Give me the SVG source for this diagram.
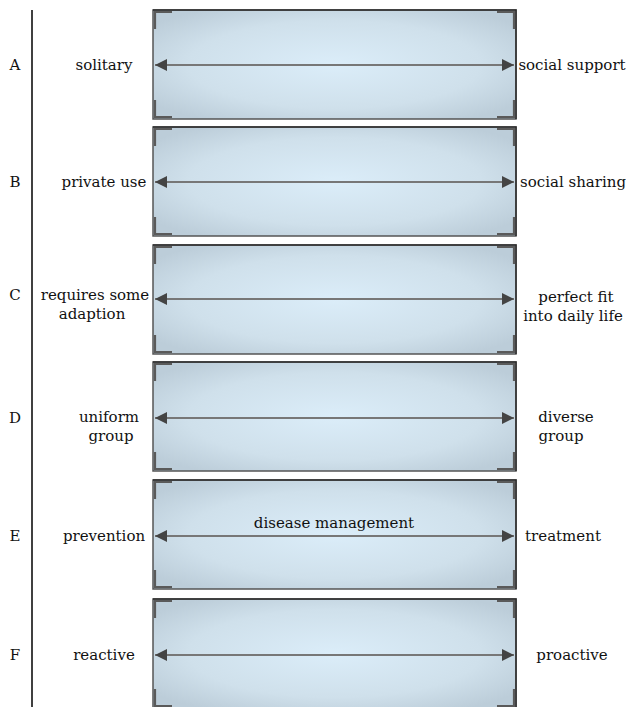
<svg xmlns="http://www.w3.org/2000/svg" width="626" height="707" viewBox="0 0 626 707">
<style>
text{font-family:"DejaVu Serif","Liberation Serif",serif;font-size:15px;fill:#111;}
.mid{text-anchor:middle;}
.box{fill:url(#g);stroke:#555;stroke-width:1.5;}
.tr{fill:none;stroke:#2e2e2e;stroke-width:1.5;}
.cor{fill:none;stroke:#5a5a5a;stroke-width:2.2;}
.arr{stroke:#777;stroke-width:2;fill:none;marker-start:url(#ah);marker-end:url(#ah);}
</style>
<defs>
<radialGradient id="g" cx="0.5" cy="0.5" r="0.62">
<stop offset="0" stop-color="#dbedf9"/>
<stop offset="0.65" stop-color="#cfe0eb"/>
<stop offset="1" stop-color="#bccdd9"/>
</radialGradient>
<marker id="ah" viewBox="0 0 12 12" refX="12" refY="6" markerWidth="12" markerHeight="12" markerUnits="userSpaceOnUse" orient="auto-start-reverse">
<path d="M0,0 L12,6 L0,12 Z" fill="#444"/>
</marker>
<g id="box">
<rect class="box" x="153" y="0" width="363" height="109"/>
<path class="tr" d="M153,0 H516 V109"/>
<path class="cor" d="M155,19 V2 H172 M155,90 V107 H172 M514,19 V2 H497 M514,90 V107 H497"/>
</g>
</defs>
<line x1="32" y1="10" x2="32" y2="707" stroke="#000" stroke-width="1.5"/>
<g id="row-A">
<use href="#box" y="10"/>
<text x="15" y="70" class="mid">A</text>
<text x="104" y="70" class="mid">solitary</text>
<text x="572" y="70" class="mid">social support</text>
</g>
<g id="row-B">
<use href="#box" y="127"/>
<text x="15" y="187" class="mid">B</text>
<text x="104" y="187" class="mid">private use</text>
<text x="573" y="187" class="mid">social sharing</text>
</g>
<g id="row-C">
<use href="#box" y="245"/>
<text x="15" y="300" class="mid">C</text>
<text x="95" y="300" class="mid">requires some</text>
<text x="92" y="319" class="mid">adaption</text>
<text x="576" y="302" class="mid">perfect fit</text>
<text x="573" y="321" class="mid">into daily life</text>
</g>
<g id="row-D">
<use href="#box" y="362"/>
<text x="15" y="423" class="mid">D</text>
<text x="109" y="422" class="mid">uniform</text>
<text x="111" y="441" class="mid">group</text>
<text x="566" y="422" class="mid">diverse</text>
<text x="561" y="441" class="mid">group</text>
</g>
<g id="row-E">
<use href="#box" y="480"/>
<text x="15" y="541" class="mid">E</text>
<text x="104" y="541" class="mid">prevention</text>
<text x="563" y="541" class="mid">treatment</text>
<text x="334" y="528" class="mid">disease management</text>
</g>
<g id="row-F">
<use href="#box" y="599"/>
<text x="15" y="660" class="mid">F</text>
<text x="104" y="660" class="mid">reactive</text>
<text x="572" y="660" class="mid">proactive</text>
</g>
<g id="connectors">
<line class="arr" x1="155" y1="65" x2="514" y2="65"/>
<line class="arr" x1="155" y1="182" x2="514" y2="182"/>
<line class="arr" x1="155" y1="299" x2="514" y2="299"/>
<line class="arr" x1="155" y1="418" x2="514" y2="418"/>
<line class="arr" x1="155" y1="536" x2="514" y2="536"/>
<line class="arr" x1="155" y1="655" x2="514" y2="655"/>
</g>
</svg>
